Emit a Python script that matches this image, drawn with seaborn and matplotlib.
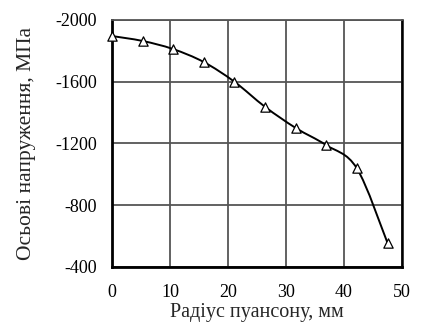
import numpy as np
import pandas as pd
import seaborn as sns
import matplotlib.pyplot as plt
from matplotlib.path import Path
from matplotlib.patches import PathPatch

radius = [0, 5.3, 10.5, 15.8, 21.1, 26.4, 31.7, 36.9, 42.2, 47.5]
stress = [-1896, -1864, -1812, -1728, -1600, -1437, -1300, -1190, -1040, -556]
x_ticks = [0, 10, 20, 30, 40, 50]
y_ticks = [-2000, -1600, -1200, -800, -400]

sns.set_style("white")
plt.rcParams['font.family'] = ['Liberation Serif', 'DejaVu Serif']
plt.rcParams['axes.unicode_minus'] = False

df = pd.DataFrame({"r": radius, "s": stress})

fig = plt.figure(figsize=(4.25, 3.26), dpi=100)
ax = fig.add_axes([0.2635, 0.181, 0.6824, 0.7577])

# smoothed line (Excel-style Catmull-Rom rendered as bezier path)
pts = np.column_stack([radius, stress]).astype(float)
verts = [pts[0]]
codes = [Path.MOVETO]
for i in range(len(pts) - 1):
    p0 = pts[i - 1] if i > 0 else pts[i]
    p1, p2 = pts[i], pts[i + 1]
    p3 = pts[i + 2] if i + 2 < len(pts) else pts[i + 1]
    c1 = p1 + (p2 - p0) / 6
    c2 = p2 - (p3 - p1) / 6
    verts += [c1, c2, p2]
    codes += [Path.CURVE4] * 3
ax.add_patch(PathPatch(Path(verts, codes), facecolor="none", edgecolor="black", lw=1.4, zorder=3))

sns.scatterplot(data=df, x="r", y="s", marker="^", s=45, facecolor="white",
                edgecolor="black", linewidth=0.9, ax=ax, zorder=4, clip_on=False)

ax.set_xlim(0, 50)
ax.set_ylim(-400, -2000)
ax.set_xticks(x_ticks)
ax.set_yticks(y_ticks)
ax.grid(True, color="#555555", lw=1.3)
ax.set_axisbelow(True)
ax.tick_params(direction="out", length=4, width=1.3, labelsize=13, colors="black")
ax.tick_params(axis="x", pad=8)
ax.tick_params(axis="y", pad=7)

for side in ["left", "bottom"]:
    ax.spines[side].set_color("black")
    ax.spines[side].set_linewidth(2)
ax.spines["right"].set_color("black")
ax.spines["right"].set_linewidth(1.8)
ax.spines["top"].set_color("#555555")
ax.spines["top"].set_linewidth(1.3)

ax.set_xlabel("Радіус пуансону, мм", fontsize=14.5, labelpad=2)
ax.set_ylabel("Осьові напруження, МПа", fontsize=15.5, labelpad=14)

fig.savefig("out.png", dpi=100)
